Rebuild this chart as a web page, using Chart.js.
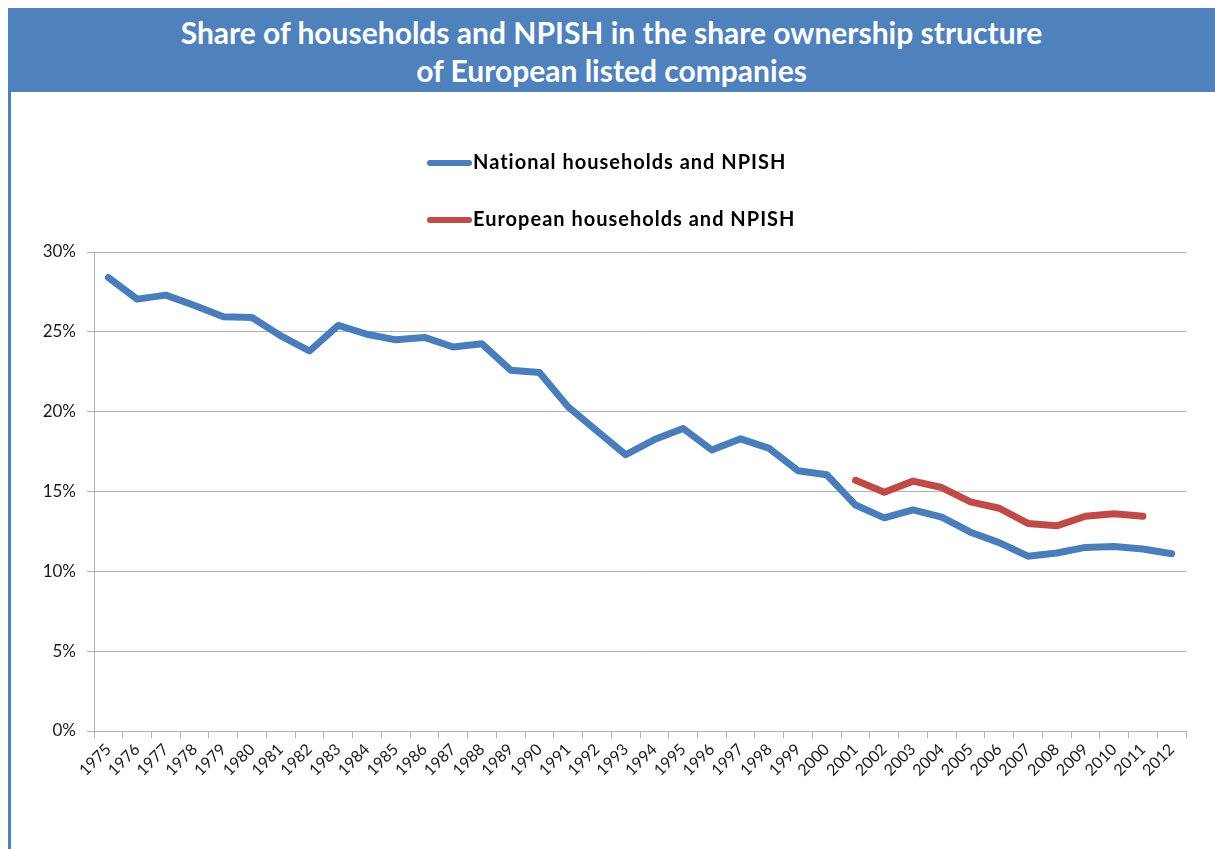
<!DOCTYPE html>
<html>
<head>
<meta charset="utf-8">
<script src="https://cdn.jsdelivr.net/npm/chart.js@4.4.0/dist/chart.umd.min.js"></script>
<style>
  body { margin: 0; background: #fff; width: 1215px; height: 849px; overflow: hidden; position: relative; }
  #banner {
    position: absolute; left: 8px; top: 8px; width: 1207px; height: 84px;
    background: #4F81BD; color: #fff; text-align: center;
    font-family: Lato, sans-serif; font-weight: bold; font-size: 30px; line-height: 38px;
    padding-top: 5px; box-sizing: border-box;
  }
  #leftBar { position: absolute; left: 8px; top: 92px; width: 3px; height: 757px; background: #4F81BD; }
  #wrap { position: absolute; left: 11px; top: 92px; width: 1204px; height: 757px; }
</style>
</head>
<body>
<div id="banner">Share of households and NPISH in the share ownership structure<br>of European listed companies</div>
<div id="leftBar"></div>
<div id="wrap"><canvas id="shareChart"></canvas></div>
<script>
const years = [
  "1975", "1976", "1977", "1978", "1979", "1980", "1981", "1982", "1983", "1984",
  "1985", "1986", "1987", "1988", "1989", "1990", "1991", "1992", "1993", "1994",
  "1995", "1996", "1997", "1998", "1999", "2000", "2001", "2002", "2003", "2004",
  "2005", "2006", "2007", "2008", "2009", "2010", "2011", "2012",
];
const nationalShare = [
  28.4, 27.05, 27.3, 26.65, 25.95, 25.9, 24.75, 23.8, 25.4, 24.85,
  24.5, 24.65, 24.05, 24.25, 22.6, 22.45, 20.3, 18.8, 17.3, 18.25,
  18.95, 17.6, 18.3, 17.7, 16.3, 16.05, 14.15, 13.35, 13.85, 13.4,
  12.45, 11.8, 10.95, 11.15, 11.5, 11.55, 11.4, 11.1,
];
const europeanShare = [
  null, null, null, null, null, null, null, null, null, null,
  null, null, null, null, null, null, null, null, null, null,
  null, null, null, null, null, null, 15.7, 14.95, 15.65, 15.25,
  14.35, 13.95, 13.0, 12.85, 13.45, 13.6, 13.45, null,
];
const yTicks = [0, 5, 10, 15, 20, 25, 30];

// legend stacked vertically above the plot, like the original
const stackedLegend = {
  id: "stackedLegend",
  afterDraw(chart) {
    const ctx = chart.ctx;
    ctx.save();
    chart.data.datasets.forEach(function (ds, i) {
      const y = 71 + i * 57;
      ctx.strokeStyle = ds.borderColor;
      ctx.lineWidth = 6;
      ctx.lineCap = "round";
      ctx.beginPath();
      ctx.moveTo(419, y);
      ctx.lineTo(458, y);
      ctx.stroke();
      ctx.fillStyle = "#000";
      ctx.font = "bold 20px Lato";
      ctx.letterSpacing = "1px";
      ctx.textBaseline = "middle";
      ctx.fillText(ds.label, 462, y);
    });
    ctx.restore();
  },
};

document.addEventListener("DOMContentLoaded", function () {
  const ctx = document.getElementById("shareChart").getContext("2d");
  new Chart(ctx, {
    type: "line",
    data: {
      labels: years,
      datasets: [
        {
          label: "National households and NPISH",
          data: nationalShare,
          borderColor: "#4A7EBB",
          borderWidth: 7,
          pointRadius: 0,
          borderCapStyle: "round",
          borderJoinStyle: "round",
          tension: 0,
        },
        {
          label: "European households and NPISH",
          data: europeanShare,
          borderColor: "#BE4B48",
          borderWidth: 7,
          pointRadius: 0,
          borderCapStyle: "round",
          borderJoinStyle: "round",
          tension: 0,
        },
      ],
    },
    options: {
      responsive: true,
      maintainAspectRatio: false,
      animation: false,
      layout: { padding: { top: 160, right: 29, bottom: 0, left: 0 } },
      plugins: {
        legend: { display: false },
        tooltip: { enabled: false },
      },
      scales: {
        x: {
          offset: true,
          grid: {
            offset: true,
            drawOnChartArea: false,
            drawTicks: true,
            tickLength: 7,
            color: "#B3B3B3",
          },
          border: { color: "#B3B3B3" },
          ticks: {
            color: "#1a1a1a",
            font: { family: "Lato", size: 16 },
            maxRotation: 45,
            minRotation: 45,
            autoSkip: false,
            padding: 2,
          },
          afterFit: function (scale) { scale.height = 118; },
        },
        y: {
          min: 0,
          max: 30,
          afterBuildTicks: function (scale) {
            scale.ticks = yTicks.map(function (v) { return { value: v }; });
          },
          grid: { color: "#B3B3B3", tickLength: 7 },
          border: { color: "#B3B3B3" },
          ticks: {
            color: "#1a1a1a",
            font: { family: "Lato", size: 17 },
            padding: 11,
            callback: function (v) { return v + "%"; },
          },
          afterFit: function (scale) { scale.width = 83; },
        },
      },
    },
    plugins: [stackedLegend],
  });
});
</script>
</body>
</html>
